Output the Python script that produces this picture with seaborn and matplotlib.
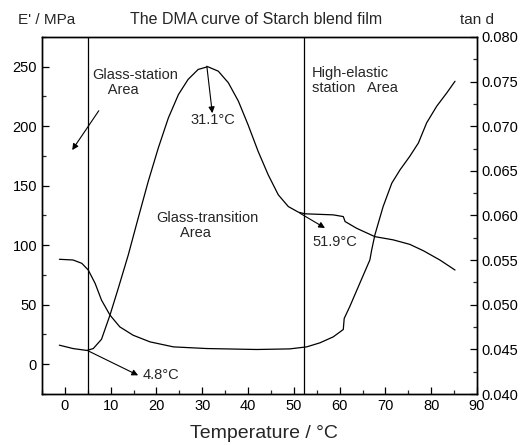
import matplotlib
matplotlib.use("Agg")
import matplotlib.pyplot as plt
import seaborn as sns
from matplotlib.ticker import MultipleLocator, FormatStrFormatter

# ==========================================
# Data
# ==========================================

# storage modulus E' (left axis, MPa)
temp_modulus = [-1.2, 1.8, 3.7, 5.1, 6.6, 8.0, 9.85, 12.0, 14.9, 18.6, 23.7,
                31.0, 41.9, 49.1, 52.8, 55.7, 58.6, 60.8, 61.0, 62.2, 64.4,
                66.6, 67.0, 67.7, 69.5, 71.4, 73.2, 75.3, 77.2, 79.0, 81.2,
                83.4, 85.2]
modulus = [88.2, 87.6, 84.8, 79.2, 68.0, 53.9, 41.3, 31.4, 24.4, 18.8, 14.6,
           13.2, 12.4, 12.9, 14.6, 18.0, 23.0, 29.2, 38.5, 48.3, 68.0,
           87.6, 96.0, 108.7, 132.5, 152.2, 163.4, 174.6, 185.9, 202.8, 216.8,
           228.0, 237.8]

# loss factor tan d (right axis)
temp_tand = [-1.2, 1.8, 4.8, 6.2, 8.0, 9.85, 11.66, 13.84, 16.0, 18.2, 20.4,
             22.6, 24.8, 26.9, 29.1, 31.2, 33.5, 35.7, 37.9, 40.0, 42.2,
             44.4, 46.6, 48.8, 51.0, 52.4, 58.6, 60.8, 61.2, 63.7, 67.7,
             71.7, 75.3, 78.3, 81.9, 85.2]
tand = [0.04547, 0.04509, 0.04488, 0.04509, 0.04613, 0.04884, 0.05184,
        0.05557, 0.05969, 0.06381, 0.06756, 0.07093, 0.07355, 0.07524,
        0.07636, 0.07667, 0.07617, 0.07487, 0.07280, 0.07017, 0.06719,
        0.06456, 0.06232, 0.06100, 0.06037, 0.06019, 0.06007, 0.05988,
        0.05932, 0.05857, 0.05763, 0.05727, 0.05677, 0.05605, 0.05501,
        0.05389]

# region boundaries (deg C)
boundaries = [5.0, 52.3]

# ==========================================
# Plot
# ==========================================

sns.set_style("ticks")
plt.rcParams["font.family"] = ["Liberation Sans", "DejaVu Sans"]
plt.rcParams["xtick.direction"] = "in"
plt.rcParams["ytick.direction"] = "in"

fig = plt.figure(figsize=(5.28, 4.45), dpi=100)
ax = fig.add_axes([0.0795, 0.1146, 0.8239, 0.8023])

sns.lineplot(x=temp_modulus, y=modulus, ax=ax, color="black", lw=0.9)
for b in boundaries:
    ax.axvline(b, color="black", lw=0.9)

ax.set_xlim(-5, 90)
ax.set_ylim(-25, 275)
ax.xaxis.set_major_locator(MultipleLocator(10))
ax.xaxis.set_minor_locator(MultipleLocator(5))
ax.yaxis.set_major_locator(MultipleLocator(50))
ax.yaxis.set_minor_locator(MultipleLocator(25))
ax.tick_params(which="major", length=5, width=0.9, labelsize=10.5, colors="black")
ax.tick_params(which="minor", length=3, width=0.9)
ax.set_xlabel("")
ax.set_ylabel("")

ax2 = ax.twinx()
sns.lineplot(x=temp_tand, y=tand, ax=ax2, color="black", lw=0.9)
ax2.set_ylim(0.040, 0.080)
ax2.yaxis.set_major_locator(MultipleLocator(0.005))
ax2.yaxis.set_minor_locator(MultipleLocator(0.0025))
ax2.yaxis.set_major_formatter(FormatStrFormatter("%.3f"))
ax2.tick_params(which="major", length=5, width=0.9, labelsize=10.5, colors="black")
ax2.tick_params(which="minor", length=3, width=0.9)
ax2.set_ylabel("")

for a in (ax, ax2):
    for s in a.spines.values():
        s.set_linewidth(1.0)
        s.set_color("black")

# ==========================================
# Annotations
# ==========================================

arrow = dict(arrowstyle="-|>", color="black", lw=0.8, mutation_scale=9,
             shrinkA=0, shrinkB=0)

ax.text(5.9, 249, "Glass-station\n    Area", fontsize=10.5, va="top",
        linespacing=1.1)
ax.annotate("", xy=(1.6, 180), xytext=(7.4, 213), arrowprops=arrow)

ax.annotate("", xy=(32.2, 211), xytext=(31.0, 250.5), arrowprops=arrow)
ax.text(32.3, 205, "31.1°C", fontsize=10.5, ha="center", va="center")

ax.text(19.9, 129, "Glass-transition\n      Area", fontsize=10.5, va="top",
        linespacing=1.1)

ax.text(54.0, 251, "High-elastic\nstation   Area", fontsize=10.5, va="top",
        linespacing=1.1)

ax.annotate("", xy=(56.8, 114.5), xytext=(51.3, 127), arrowprops=arrow)
ax.text(54.0, 103, "51.9°C", fontsize=10.5, ha="left", va="center")

ax.annotate("", xy=(16.0, -9.3), xytext=(5.0, 11.4), arrowprops=arrow)
ax.text(17.0, -9.3, "4.8°C", fontsize=10.5, ha="left", va="center")

# axis titles
fig.text(47 / 528, 1 - 20 / 445, "E' / MPa", fontsize=11, ha="center", va="center")
fig.text(256 / 528, 1 - 20 / 445, "The DMA curve of Starch blend film",
         fontsize=11.5, ha="center", va="center")
fig.text(477 / 528, 1 - 20 / 445, "tan d", fontsize=11, ha="center", va="center")
fig.text(264 / 528, 1 - 434 / 445, "Temperature / °C", fontsize=14,
         ha="center", va="center")

plt.savefig("out.png", dpi=100)
print("saved out.png")
